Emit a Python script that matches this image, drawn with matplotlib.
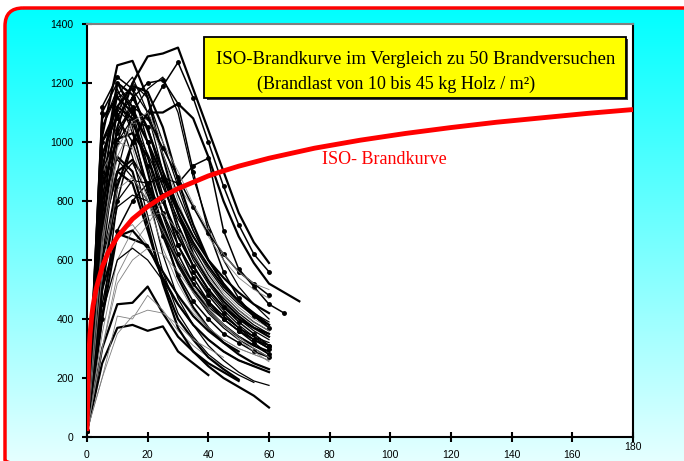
import numpy as np
import matplotlib.pyplot as plt
from matplotlib.patches import FancyBboxPatch, Rectangle

# time grid of the fire tests (minutes)
minutes = [0, 5, 10, 15, 20, 25, 30, 35, 40, 45, 50, 55, 60, 65, 70]

# temperatures of the fire tests (deg C)
tests = [
    [20, 1120, 1220, 1180, 1000, 800, 650, 560, 480, 420, 370, 330, 300],
    [20, 1050, 1160, 1220, 1100, 900, 720, 600, 520, 450, 400, 360, 330],
    [20, 1020, 1260, 1275, 1150, 950, 760, 620, 530, 460, 410, 370, 340],
    [20, 960, 1090, 1150, 1050, 870, 700, 580, 500, 440, 390, 350, 310],
    [20, 900, 1030, 1110, 1000, 820, 650, 540, 460, 400, 360, 320, 280],
    [20, 850, 1160, 1030, 850, 700, 580, 490, 420, 370, 330, 300, 270],
    [20, 800, 1200, 1120, 950, 750, 600, 500, 430, 380, 340, 310, 280],
    [20, 700, 900, 940, 860, 720, 590, 500, 430, 380, 340, 310, 290],
    [20, 600, 870, 930, 820, 700, 590, 500, 440, 400, 360, 330, 300],
    [20, 500, 690, 720, 650, 560, 480, 420, 370, 330, 300, 280, 260],
    [20, 400, 690, 670, 650, 540, 450, 380, 330, 290, 260, 240, 220],
    [20, 300, 450, 455, 510, 420, 340, 290, 250, 220, 190],
    [20, 250, 370, 380, 360, 375, 290, 250, 210],
    [20, 200, 410, 400, 480, 430, 360, 310, 270, 240],
    [20, 700, 1050, 1200, 1290, 1300, 1320, 1180, 1040, 900, 760, 660, 590],
    [20, 600, 1000, 1150, 1200, 1210, 1130, 900, 700, 560, 470, 410, 370],
    [20, 500, 900, 1100, 1180, 1220, 1100, 880, 720, 600, 510, 450, 400],
    [20, 800, 1100, 1200, 1150, 1000, 850, 700, 600, 520, 460, 410, 370],
    [20, 400, 800, 1000, 1100, 1190, 1270, 1150, 1000, 850, 720, 620, 560],
    [20, 500, 850, 1000, 1100, 1100, 1130, 1080, 950, 800, 680, 590, 520, 490, 460],
    [20, 450, 700, 800, 860, 880, 860, 920, 945, 700, 570, 510, 450, 420],
    [20, 900, 1170, 1120, 1000, 850, 720, 610, 530, 470, 420, 380, 350],
    [20, 650, 1000, 1080, 1050, 900, 760, 640, 550, 480, 430, 390, 360],
    [20, 1000, 1120, 1080, 900, 700, 540, 440, 370, 320, 280, 250, 230],
    [20, 1050, 1180, 1050, 830, 620, 470, 380, 310, 260, 220, 190, 175],
    [20, 950, 1100, 950, 750, 560, 420, 340, 280, 240, 210, 185],
    [20, 800, 950, 900, 720, 520, 370, 290, 240, 200, 170, 140, 100],
    [20, 700, 900, 860, 700, 530, 400, 330, 270, 230, 195],
    [20, 900, 1000, 980, 800, 640, 520, 430, 370, 330, 300, 280, 260],
    [20, 1100, 1200, 1100, 920, 760, 620, 520, 450, 400, 360, 330, 310],
    [20, 850, 1010, 1030, 950, 800, 680, 580, 500, 440, 400, 370, 350],
    [20, 600, 800, 870, 860, 760, 650, 560, 490, 430, 380, 340, 300],
    [20, 550, 780, 820, 800, 700, 600, 520, 460, 410, 370, 340, 310],
    [20, 350, 600, 700, 750, 760, 700, 620, 540, 480, 430, 390, 360],
    [20, 300, 550, 650, 720, 800, 850, 780, 680, 600, 540, 500, 470],
    [20, 1000, 1080, 1000, 840, 680, 550, 460, 400, 350, 320, 290, 270],
    [20, 950, 1150, 1180, 1100, 960, 820, 700, 600, 520, 460, 420, 390],
    [20, 750, 1120, 1190, 1170, 1050, 870, 720, 600, 520, 460, 410, 380],
    [20, 650, 950, 1060, 1080, 960, 800, 660, 560, 490, 440, 400, 370],
    [20, 880, 940, 880, 800, 700, 600, 520, 460, 410, 370, 340, 320],
    [20, 500, 680, 700, 640, 560, 480, 410, 360, 320, 290],
    [20, 420, 600, 640, 600, 530, 450, 380, 330, 290, 260, 240],
    [20, 1080, 1150, 1100, 1000, 880, 760, 660, 580, 510, 460, 420, 380],
    [20, 200, 350, 410, 430, 420, 380, 330, 300, 270],
    [20, 300, 520, 600, 640, 620, 560, 490, 430, 380, 340, 300, 270],
    [20, 900, 1200, 1160, 1040, 900, 780, 680, 600, 540, 490, 450, 420],
    [20, 560, 840, 880, 800, 700, 600, 510, 440, 380, 330, 290, 255],
    [20, 720, 1040, 1120, 1080, 980, 880, 780, 690, 620, 560, 520, 480],
    [20, 1000, 1110, 1060, 960, 850, 740, 650, 570, 500, 450, 410, 370],
    [20, 680, 980, 1070, 1100, 1000, 900, 790, 700, 620, 560, 520, 500],
]
# line style per test: T thick, M medium, L thin grey, D with dots
test_styles = list("DMTDDMMTMLTTTLTDMMDTDMMTMMTTLDTMMLLDMTLMTMTLLTLDML")

# ISO standard fire curve
iso_minutes = [0, 0.5, 1, 1.5, 2, 3, 5, 7, 10, 15, 20, 25, 30, 40, 45, 50, 60,
               75, 90, 105, 120, 135, 150, 165, 180]
iso_temp = [20, 261, 349, 404, 445, 502, 576, 626, 678, 739, 781, 815, 842, 885,
            902, 918, 945, 979, 1006, 1029, 1049, 1067, 1082, 1097, 1110]

x_ticks = [0, 20, 40, 60, 80, 100, 120, 140, 160, 180]
y_ticks = [0, 200, 400, 600, 800, 1000, 1200, 1400]

fig = plt.figure(figsize=(6.84, 4.61), dpi=100)
fig.patch.set_facecolor('white')

# background: cyan gradient panel with red rounded frame
bg = fig.add_axes([0, 0, 1, 1])
bg.set_xlim(0, 684)
bg.set_ylim(461, 0)
bg.axis('off')
grad = np.linspace(0, 1, 256)
img = np.ones((256, 1, 3))
img[:, 0, 0] = grad * 0.93
frame = FancyBboxPatch((5, 8), 700, 470, boxstyle="round,pad=0,rounding_size=18",
                       facecolor='none', edgecolor='red', linewidth=2.5, zorder=3)
bg.add_patch(frame)
im = bg.imshow(img, extent=(5, 705, 478, 8), aspect='auto', zorder=1)
im.set_clip_path(frame)

ax = fig.add_axes([87 / 684, 1 - 437 / 461, 546 / 684, 413 / 461])
ax.set_facecolor('white')

styles = {
    'T': dict(color='black', linewidth=1.6),
    'M': dict(color='black', linewidth=0.9),
    'L': dict(color='#808080', linewidth=0.6),
    'D': dict(color='black', linewidth=1.1, marker='o', markersize=2.5),
}
for temps, st in zip(tests, test_styles):
    ax.plot(minutes[:len(temps)], temps, zorder=2, **styles[st])

ax.plot(iso_minutes, iso_temp, color='red', linewidth=3.5, zorder=4,
        solid_capstyle='butt')
ax.text(77.5, 940, "ISO- Brandkurve", color='red', fontsize=13,
        family='Liberation Serif', va='center', ha='left', zorder=5)

# title box
ax.add_patch(Rectangle((39.4, 1142), 139, 207, facecolor='#404040',
                       edgecolor='none', zorder=5))
ax.add_patch(Rectangle((38.6, 1149), 139, 207, facecolor='yellow',
                       edgecolor='black', linewidth=1.3, zorder=6))
ax.text(108.5, 1281, "ISO-Brandkurve im Vergleich zu 50 Brandversuchen",
        fontsize=13.6, family='Liberation Serif', ha='center', va='center', zorder=7)
ax.text(102, 1195, "(Brandlast von 10 bis 45 kg Holz / m²)",
        fontsize=13, family='Liberation Serif', ha='center', va='center', zorder=7)

ax.set_xlim(0, 180)
ax.set_ylim(0, 1400)
ax.set_xticks(x_ticks)
ax.set_xticklabels([str(v) for v in x_ticks[:-1]] + [''])
ax.set_yticks(y_ticks)
ax.tick_params(direction='inout', length=7, width=1.5, labelsize=7.5, pad=6)
for lab in ax.get_xticklabels() + ax.get_yticklabels():
    lab.set_family('Liberation Sans')
# the last x label sits a little higher in the original
ax.text(180, -34, str(x_ticks[-1]), fontsize=7.5, family='Liberation Sans',
        ha='center', va='center', clip_on=False)
for side in ['left', 'bottom', 'right']:
    ax.spines[side].set_linewidth(1.5)
    ax.spines[side].set_color('black')
ax.spines['top'].set_color('#808080')
ax.spines['top'].set_linewidth(1.5)

fig.savefig('out.png', dpi=100)
